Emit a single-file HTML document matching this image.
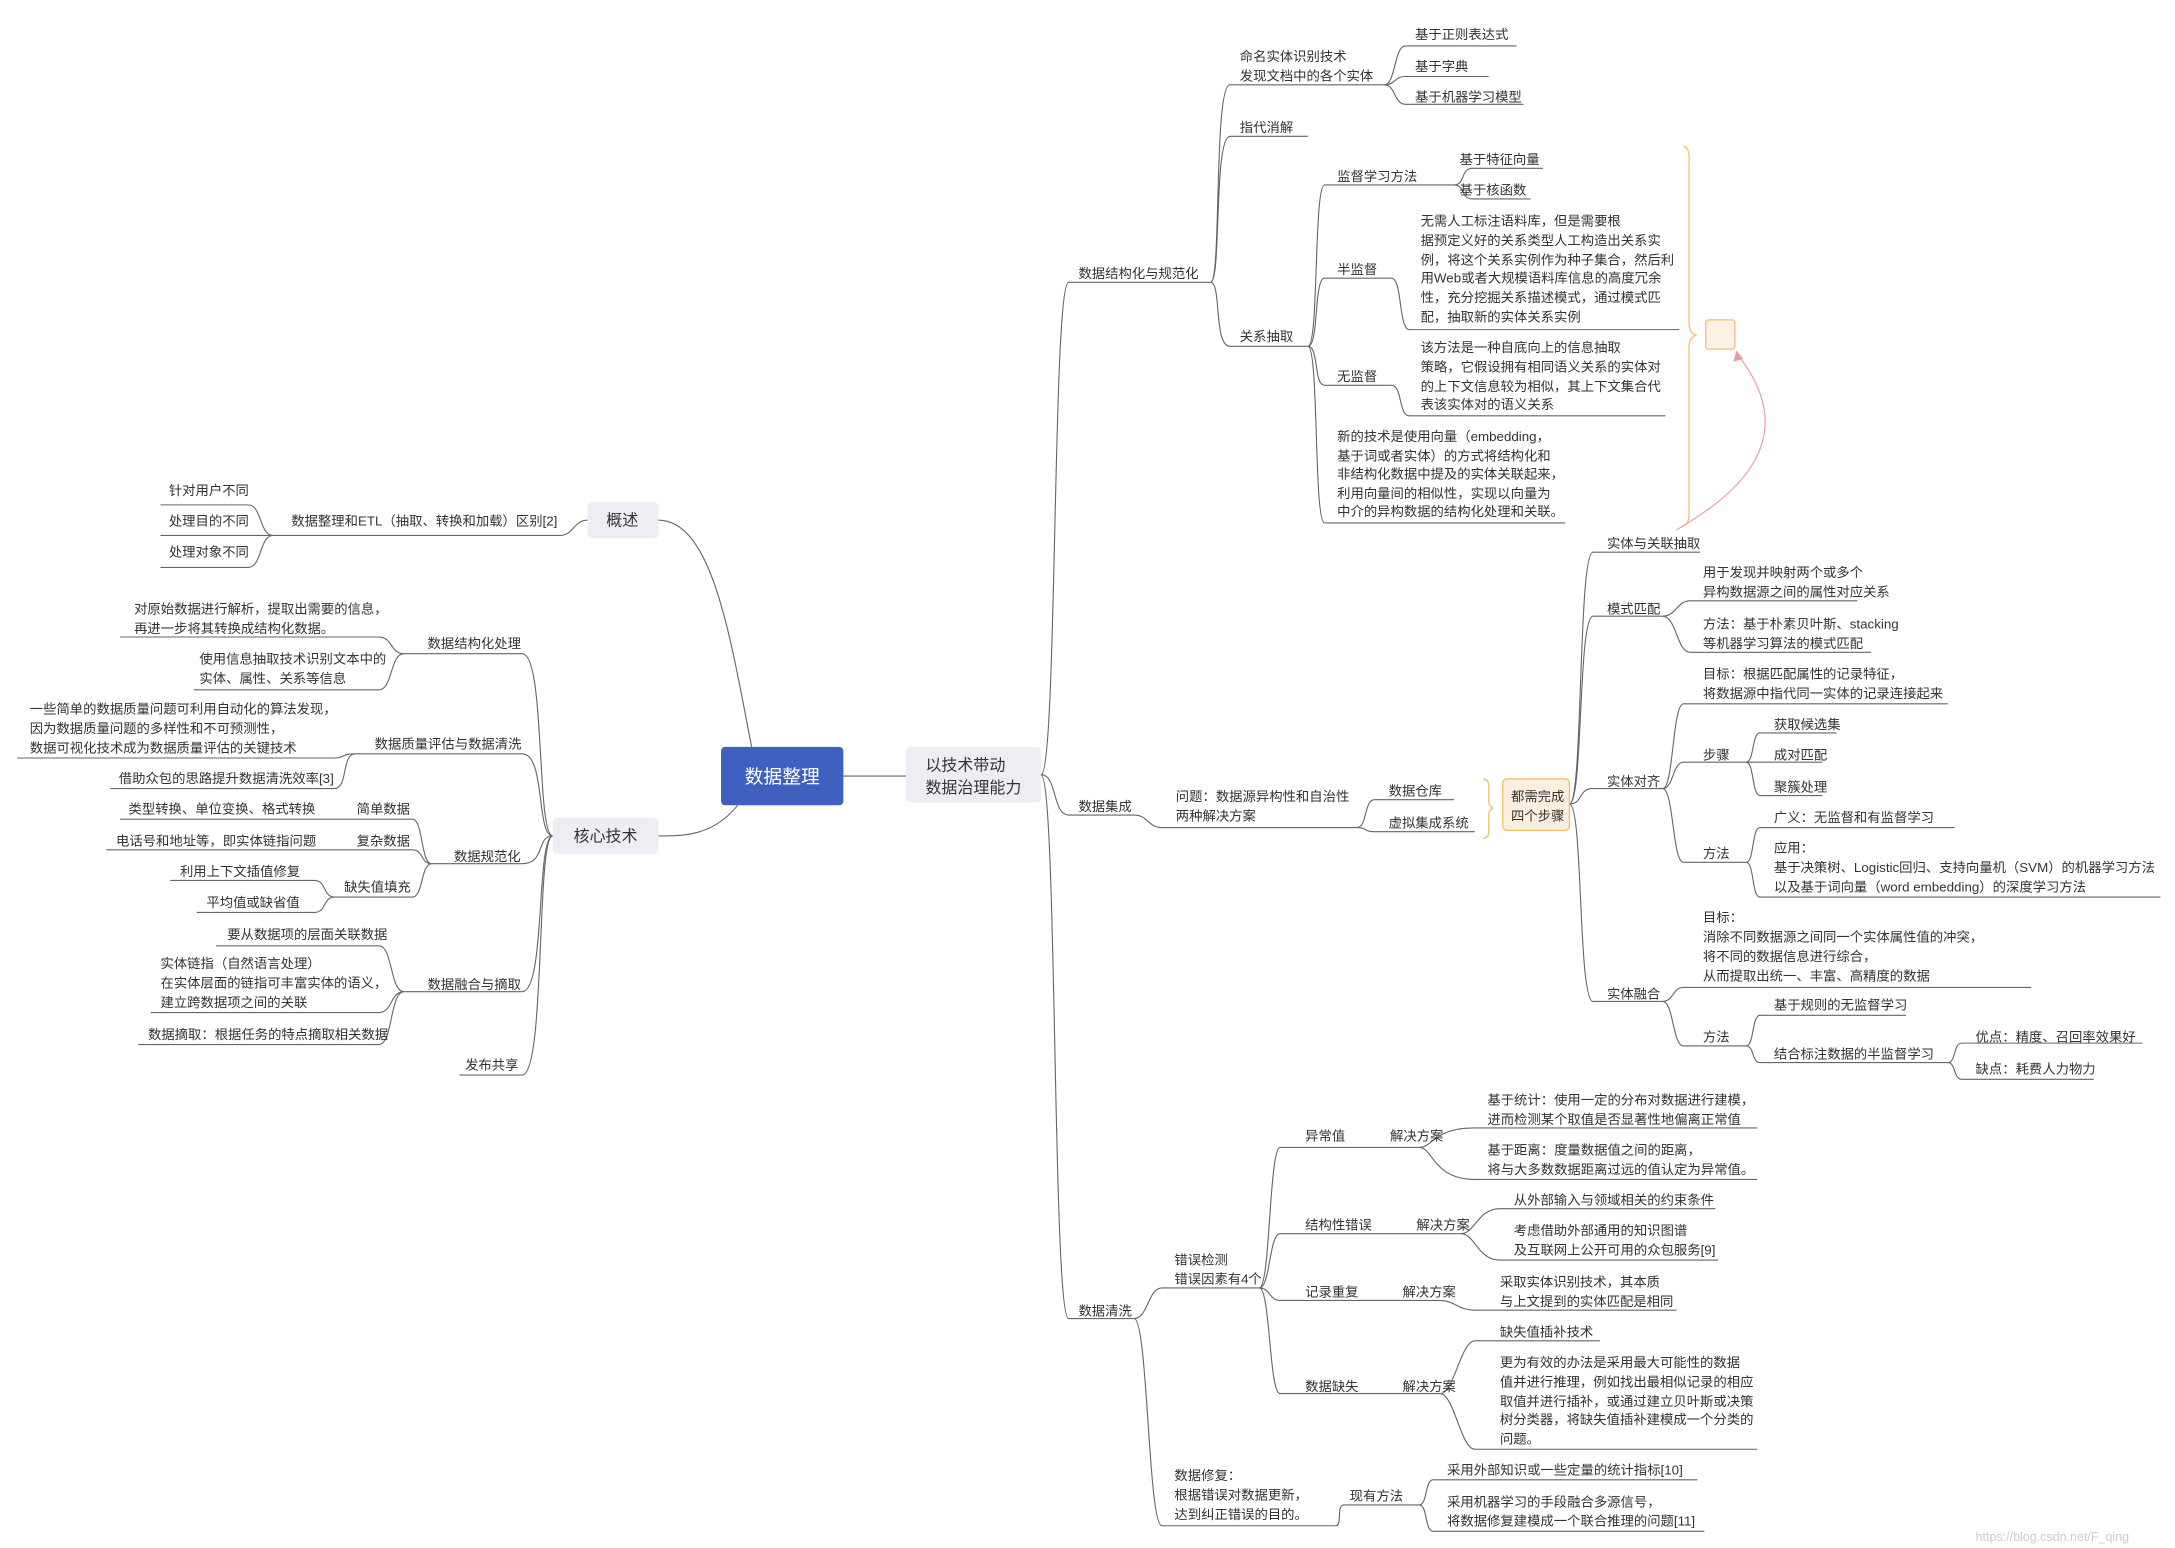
<!DOCTYPE html>
<html><head><meta charset="utf-8"><style>
html,body{margin:0;padding:0;background:#fff}
svg{display:block}
text{font-family:"Liberation Sans","Noto Sans CJK SC",sans-serif;font-size:9.6px;fill:#333}
</style></head><body>
<svg width="2175" height="1548" viewBox="0 0 1563 1113" xmlns="http://www.w3.org/2000/svg">
<g fill="none" stroke="#666" stroke-width="0.8">
<!-- root connectors -->
<path d="M606 558H651"/>
<path d="M540 537C525 460 512 374 473 374"/>
<path d="M530 579C512 601 492 601 473 601"/>
<!-- 概述 -->
<path d="M422 374C412 374 412 385 402 385H196"/>
<path d="M196 385C186 385 188 363 178 363H115"/>
<path d="M196 385C188 385 188 385 180 385H115"/>
<path d="M196 385C186 385 188 408 178 408H115"/>
<!-- 核心技术 trunk -->
<path d="M397 601C385 601 392 470 375 470H290"/>
<path d="M397 601C385 601 392 542 375 542H255"/>
<path d="M397 601C385 601 392 621 375 621H310"/>
<path d="M397 601C385 601 392 713 375 713H290"/>
<path d="M397 601C385 601 392 773 375 773H330"/>
<path d="M290 470C280 470 282 458 272 458H86"/>
<path d="M290 470C280 470 282 496 272 496H139"/>
<path d="M255 542C245 542 247 545 240 545H12"/>
<path d="M255 542C245 542 250 567 240 567H79"/>
<path d="M310 621C302 621 304 589 296 589H86"/>
<path d="M310 621C302 621 304 611 296 611H76"/>
<path d="M310 621C302 621 304 645 296 645H240"/>
<path d="M240 645C232 645 234 633 226 633H122"/>
<path d="M240 645C232 645 234 656 226 656H141"/>
<path d="M290 713C280 713 282 680 272 680H155"/>
<path d="M290 713C280 713 282 728 272 728H108"/>
<path d="M290 713C280 713 282 751 272 751H99"/>
<!-- right trunk -->
<path d="M748 557C760 557 756 203 768 203H870"/>
<path d="M748 557C760 557 756 586 768 586H815"/>
<path d="M748 557C760 557 756 948 768 948H815"/>
<!-- 数据结构化与规范化 -->
<path d="M870 203C878 203 872 61 884 61H995"/>
<path d="M870 203C878 203 872 98 884 98H940"/>
<path d="M870 203C878 203 872 249 884 249H940"/>
<path d="M995 61C1003 61 1002 33 1010 33H1090"/>
<path d="M995 61C1003 61 1002 55 1010 55H1070"/>
<path d="M995 61C1003 61 1002 75 1010 75H1095"/>
<path d="M940 249C948 249 944 133 952 133H1045"/>
<path d="M940 249C948 249 944 200 952 200H1000"/>
<path d="M940 249C948 249 944 277 952 277H1000"/>
<path d="M940 249C948 249 944 376 952 376H1125"/>
<path d="M1045 133C1053 133 1050 121 1058 121H1109"/>
<path d="M1045 133C1053 133 1050 143 1058 143H1100"/>
<path d="M1000 200C1008 200 1005 237 1013 237H1207"/>
<path d="M1000 277C1008 277 1005 299 1013 299H1197"/>
<!-- 数据集成 -->
<path d="M815 586C825 586 825 595 835 595H975"/>
<path d="M975 595C983 595 980 575 988 575H1045"/>
<path d="M975 595C983 595 980 598 988 598H1060"/>
<path d="M1128 578C1138 578 1134 397 1145 397H1222"/>
<path d="M1128 578C1138 578 1134 443 1145 443H1195"/>
<path d="M1128 578C1138 578 1134 567 1145 567H1195"/>
<path d="M1128 578C1138 578 1134 720 1145 720H1195"/>
<path d="M1195 443C1205 443 1205 432 1215 432H1335"/>
<path d="M1195 443C1205 443 1205 469 1215 469H1345"/>
<path d="M1195 567C1203 567 1202 506 1210 506H1400"/>
<path d="M1195 567C1203 567 1202 548 1210 548H1255"/>
<path d="M1195 567C1203 567 1202 620 1210 620H1255"/>
<path d="M1255 548C1261 548 1259 527 1265 527H1320"/>
<path d="M1255 548C1261 548 1259 548 1265 548H1310"/>
<path d="M1255 548C1261 548 1259 572 1265 572H1310"/>
<path d="M1255 620C1261 620 1259 595 1265 595H1405"/>
<path d="M1255 620C1261 620 1259 645 1265 645H1553"/>
<path d="M1195 720C1203 720 1202 710 1210 710H1460"/>
<path d="M1195 720C1203 720 1202 752 1210 752H1255"/>
<path d="M1255 752C1261 752 1259 730 1265 730H1370"/>
<path d="M1255 752C1261 752 1259 764 1265 764H1400"/>
<path d="M1400 764C1406 764 1404 750 1410 750H1540"/>
<path d="M1400 764C1406 764 1404 776 1410 776H1505"/>
<!-- 数据清洗 -->
<path d="M815 948C825 948 825 926 835 926H905"/>
<path d="M815 948C825 948 825 1097 835 1097H960"/>
<path d="M905 926C913 926 912 825 920 825H1020"/>
<path d="M905 926C913 926 912 887 920 887H1050"/>
<path d="M905 926C913 926 912 935 920 935H1035"/>
<path d="M905 926C913 926 912 1002 920 1002H1035"/>
<path d="M1020 825C1030 825 1030 811 1060 811H1263"/>
<path d="M1020 825C1030 825 1030 848 1060 848H1263"/>
<path d="M1050 887C1060 887 1062 869 1078 869H1233"/>
<path d="M1050 887C1060 887 1062 906 1078 906H1235"/>
<path d="M1035 935C1045 935 1048 942 1060 942H1205"/>
<path d="M1035 1002C1045 1002 1050 964 1060 964H1150"/>
<path d="M1035 1002C1045 1002 1050 1042 1060 1042H1263"/>
<path d="M960 1097C965 1097 960 1082 966 1082H1020"/>
<path d="M1020 1082C1026 1082 1024 1064 1030 1064H1220"/>
<path d="M1020 1082C1026 1082 1024 1101 1030 1101H1225"/>
</g>
<!-- braces -->
<g fill="none" stroke="#f0c060" stroke-width="0.9">
<path d="M1210 105C1215 107 1214 112 1214 120V232C1214 238 1216 240 1219 241C1216 242 1214 244 1214 250V362C1214 370 1215 376 1210 378"/>
<path d="M1066 560C1070 561 1070 563 1070 567V575C1070 579 1071 580 1073 581C1071 582 1070 583 1070 587V596C1070 600 1070 602 1066 603"/>
</g>
<rect x="1226" y="230" width="21" height="21" rx="2" fill="#fdf0e4" stroke="#f0c070" stroke-width="0.9"/>
<path d="M1205 381C1240 360 1300 320 1249 255" fill="none" stroke="#e89aa0" stroke-width="0.8"/>
<path d="M1248 252L1246 260L1253 258Z" fill="#e89aa0"/>
<rect x="1080" y="560" width="48" height="37" rx="3" fill="#fdeee0" stroke="#f0c060" stroke-width="0.9"/>
<text x="1086" y="576">都需完成</text><text x="1086" y="590">四个步骤</text>
<!-- boxes -->
<rect x="518" y="537" width="88" height="42" rx="3" fill="#4060bf"/>
<text x="562" y="563" text-anchor="middle" style="font-size:13.5px;fill:#fff">数据整理</text>
<rect x="651" y="537" width="97" height="40" rx="3" fill="#eceef4"/>
<text x="665" y="554" style="font-size:11.5px">以技术带动</text><text x="665" y="570" style="font-size:11.5px">数据治理能力</text>
<rect x="422" y="361" width="51" height="26" rx="3" fill="#eceef4"/>
<text x="447" y="378" text-anchor="middle" style="font-size:11.5px">概述</text>
<rect x="397" y="588" width="76" height="26" rx="3" fill="#eceef4"/>
<text x="435" y="605" text-anchor="middle" style="font-size:11.5px">核心技术</text>
<!-- left texts -->
<text x="209" y="378">数据整理和ETL（抽取、转换和加载）区别[2]</text>
<text x="121" y="356">针对用户不同</text>
<text x="121" y="378">处理目的不同</text>
<text x="121" y="400">处理对象不同</text>
<text x="307" y="466">数据结构化处理</text>
<text x="96" y="441">对原始数据进行解析，提取出需要的信息，</text>
<text x="96" y="455">再进一步将其转换成结构化数据。</text>
<text x="143" y="477">使用信息抽取技术识别文本中的</text>
<text x="143" y="491">实体、属性、关系等信息</text>
<text x="269" y="538">数据质量评估与数据清洗</text>
<text x="21" y="513">一些简单的数据质量问题可利用自动化的算法发现，</text>
<text x="21" y="527">因为数据质量问题的多样性和不可预测性，</text>
<text x="21" y="541">数据可视化技术成为数据质量评估的关键技术</text>
<text x="85" y="563">借助众包的思路提升数据清洗效率[3]</text>
<text x="326" y="619">数据规范化</text>
<text x="256" y="585">简单数据</text>
<text x="92" y="585">类型转换、单位变换、格式转换</text>
<text x="256" y="608">复杂数据</text>
<text x="83" y="608">电话号和地址等，即实体链指问题</text>
<text x="247" y="641">缺失值填充</text>
<text x="129" y="630">利用上下文插值修复</text>
<text x="148" y="652">平均值或缺省值</text>
<text x="307" y="711">数据融合与摘取</text>
<text x="163" y="675">要从数据项的层面关联数据</text>
<text x="115" y="696">实体链指（自然语言处理）</text>
<text x="115" y="710">在实体层面的链指可丰富实体的语义，</text>
<text x="115" y="724">建立跨数据项之间的关联</text>
<text x="106" y="747">数据摘取：根据任务的特点摘取相关数据</text>
<text x="334" y="769">发布共享</text>
<!-- right texts -->
<text x="775" y="200">数据结构化与规范化</text>
<text x="891" y="44">命名实体识别技术</text><text x="891" y="58">发现文档中的各个实体</text>
<text x="1017" y="28">基于正则表达式</text>
<text x="1017" y="51">基于字典</text>
<text x="1017" y="73">基于机器学习模型</text>
<text x="891" y="95">指代消解</text>
<text x="891" y="245">关系抽取</text>
<text x="961" y="130">监督学习方法</text>
<text x="1049" y="118">基于特征向量</text>
<text x="1049" y="140">基于核函数</text>
<text x="961" y="197">半监督</text>
<text x="1021" y="162">无需人工标注语料库，但是需要根</text>
<text x="1021" y="176">据预定义好的关系类型人工构造出关系实</text>
<text x="1021" y="190">例，将这个关系实例作为种子集合，然后利</text>
<text x="1021" y="203">用Web或者大规模语料库信息的高度冗余</text>
<text x="1021" y="217">性，充分挖掘关系描述模式，通过模式匹</text>
<text x="1021" y="231">配，抽取新的实体关系实例</text>
<text x="961" y="274">无监督</text>
<text x="1021" y="253">该方法是一种自底向上的信息抽取</text>
<text x="1021" y="267">策略，它假设拥有相同语义关系的实体对</text>
<text x="1021" y="281">的上下文信息较为相似，其上下文集合代</text>
<text x="1021" y="294">表该实体对的语义关系</text>
<text x="961" y="317">新的技术是使用向量（embedding，</text>
<text x="961" y="331">基于词或者实体）的方式将结构化和</text>
<text x="961" y="344">非结构化数据中提及的实体关联起来，</text>
<text x="961" y="358">利用向量间的相似性，实现以向量为</text>
<text x="961" y="371">中介的异构数据的结构化处理和关联。</text>
<text x="775" y="583">数据集成</text>
<text x="845" y="576">问题：数据源异构性和自治性</text><text x="845" y="590">两种解决方案</text>
<text x="998" y="572">数据仓库</text>
<text x="998" y="595">虚拟集成系统</text>
<text x="1155" y="394">实体与关联抽取</text>
<text x="1155" y="441">模式匹配</text>
<text x="1224" y="415">用于发现并映射两个或多个</text><text x="1224" y="429">异构数据源之间的属性对应关系</text>
<text x="1224" y="452">方法：基于朴素贝叶斯、stacking</text><text x="1224" y="466">等机器学习算法的模式匹配</text>
<text x="1155" y="565">实体对齐</text>
<text x="1224" y="488">目标：根据匹配属性的记录特征，</text><text x="1224" y="502">将数据源中指代同一实体的记录连接起来</text>
<text x="1224" y="546">步骤</text>
<text x="1275" y="524">获取候选集</text>
<text x="1275" y="546">成对匹配</text>
<text x="1275" y="569">聚簇处理</text>
<text x="1224" y="617">方法</text>
<text x="1275" y="591">广义：无监督和有监督学习</text>
<text x="1275" y="613">应用：</text>
<text x="1275" y="627">基于决策树、Logistic回归、支持向量机（SVM）的机器学习方法</text>
<text x="1275" y="641">以及基于词向量（word embedding）的深度学习方法</text>
<text x="1155" y="718">实体融合</text>
<text x="1224" y="663">目标：</text>
<text x="1224" y="677">消除不同数据源之间同一个实体属性值的冲突，</text>
<text x="1224" y="691">将不同的数据信息进行综合，</text>
<text x="1224" y="705">从而提取出统一、丰富、高精度的数据</text>
<text x="1224" y="749">方法</text>
<text x="1275" y="726">基于规则的无监督学习</text>
<text x="1275" y="761">结合标注数据的半监督学习</text>
<text x="1420" y="749">优点：精度、召回率效果好</text>
<text x="1420" y="772">缺点：耗费人力物力</text>
<text x="775" y="946">数据清洗</text>
<text x="844" y="909">错误检测</text><text x="844" y="923">错误因素有4个</text>
<text x="938" y="820">异常值</text><text x="999" y="820">解决方案</text>
<text x="1069" y="794">基于统计：使用一定的分布对数据进行建模，</text>
<text x="1069" y="808">进而检测某个取值是否显著性地偏离正常值</text>
<text x="1069" y="830">基于距离：度量数据值之间的距离，</text>
<text x="1069" y="844">将与大多数数据距离过远的值认定为异常值。</text>
<text x="938" y="884">结构性错误</text><text x="1018" y="884">解决方案</text>
<text x="1088" y="866">从外部输入与领域相关的约束条件</text>
<text x="1088" y="888">考虑借助外部通用的知识图谱</text>
<text x="1088" y="902">及互联网上公开可用的众包服务[9]</text>
<text x="938" y="932">记录重复</text><text x="1008" y="932">解决方案</text>
<text x="1078" y="925">采取实体识别技术，其本质</text>
<text x="1078" y="939">与上文提到的实体匹配是相同</text>
<text x="938" y="1000">数据缺失</text><text x="1008" y="1000">解决方案</text>
<text x="1078" y="961">缺失值插补技术</text>
<text x="1078" y="983">更为有效的办法是采用最大可能性的数据</text>
<text x="1078" y="997">值并进行推理，例如找出最相似记录的相应</text>
<text x="1078" y="1011">取值并进行插补，或通过建立贝叶斯或决策</text>
<text x="1078" y="1024">树分类器，将缺失值插补建模成一个分类的</text>
<text x="1078" y="1038">问题。</text>
<text x="844" y="1064">数据修复：</text>
<text x="844" y="1078">根据错误对数据更新，</text>
<text x="844" y="1092">达到纠正错误的目的。</text>
<text x="970" y="1079">现有方法</text>
<text x="1040" y="1060">采用外部知识或一些定量的统计指标[10]</text>
<text x="1040" y="1083">采用机器学习的手段融合多源信号，</text>
<text x="1040" y="1097">将数据修复建模成一个联合推理的问题[11]</text>
<text x="1420" y="1108" style="fill:#ccc;font-size:9px">https://blog.csdn.net/F_qing</text>
</svg>
</body></html>
